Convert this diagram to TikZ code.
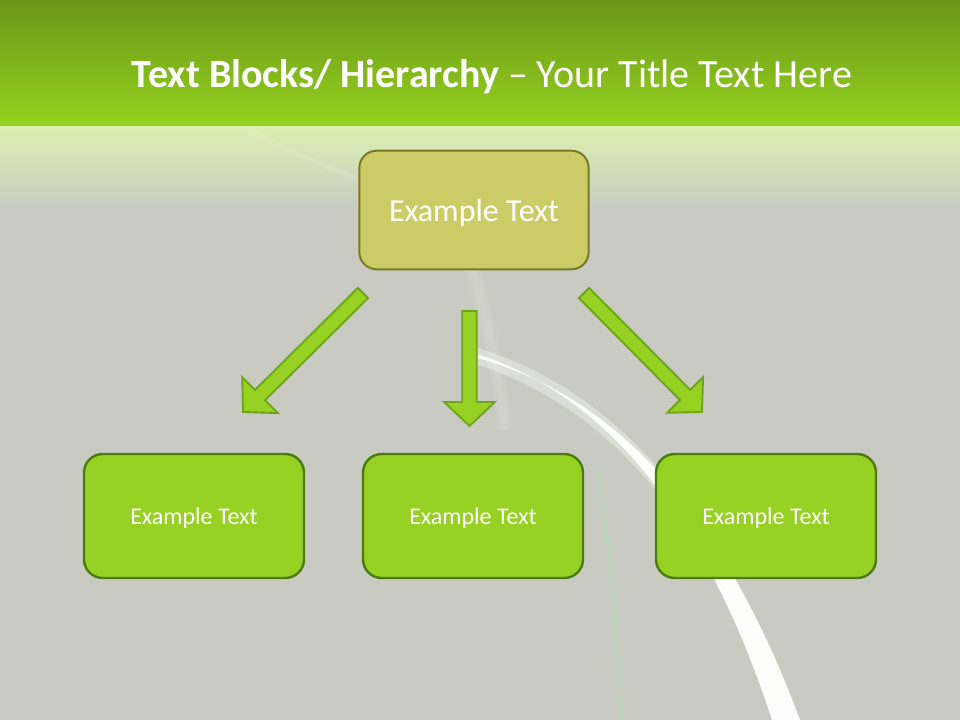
\documentclass[tikz,border=0pt]{standalone}
\usepackage{fontspec}
\setmainfont{Carlito}
\usepackage{tikz}
\usetikzlibrary{calc,positioning}

\definecolor{bandtop}{HTML}{6A9619}
\definecolor{bandbot}{HTML}{96D31E}
\definecolor{slidegray}{HTML}{C9CBC3}
\definecolor{oliveFill}{HTML}{CCCC66}
\definecolor{oliveLine}{HTML}{7A7A26}
\definecolor{leafFill}{HTML}{96D124}
\definecolor{leafLine}{HTML}{4E7A12}
\definecolor{arrowLine}{HTML}{6EA41A}

% block arrow from #1 to #2
\newcommand{\blockarrow}[3]{%
\coordinate (#3h) at ($(#2)!18pt!(#1)$);
\draw[blockarrow] ($(#1)!5.4pt!90:(#2)$) -- ($(#3h)!5.4pt!90:(#2)$) -- ($(#3h)!19pt!90:(#2)$) -- (#2)
  -- ($(#3h)!19pt!-90:(#2)$) -- ($(#3h)!5.4pt!-90:(#2)$) -- ($(#1)!5.4pt!-90:(#2)$) -- cycle;}

\begin{document}
\begin{tikzpicture}[x=0.75pt, y=-0.75pt,
  topbox/.style = {draw=oliveLine, fill=oliveFill, line width=1.5pt, rounded corners=13pt,
    minimum width=172pt, minimum height=89pt, text depth=0pt, text=white, font=\fontsize{24}{28}\selectfont},
  leafbox/.style = {draw=leafLine, fill=leafFill, line width=1.8pt, rounded corners=14pt,
    minimum width=165pt, minimum height=93pt, text depth=0pt, text=white, font=\fontsize{18}{22}\selectfont},
  blockarrow/.style = {draw=arrowLine, fill=leafFill, line width=1.4pt, line join=miter}]
% background
\useasboundingbox (0,0) rectangle (960,720);
\fill[slidegray] (0,0) rectangle (960,720);
\shade[top color=bandtop, bottom color=bandbot] (0,0) rectangle (960,128);
\shade[top color=bandbot!35!white, bottom color=slidegray] (0,127) rectangle (960,210);
\fill[white, opacity=0.12] (250,128) .. controls (330,170) and (400,190) .. (470,215)
  -- (470,220) .. controls (400,195) and (330,176) .. (246,132) -- cycle;
\foreach \w in {4,8,12} {
  \draw[white, opacity=0.06, line width=\w pt] (470,260) .. controls (490,330) and (500,380) .. (505,430);}
\draw[green!50!white, opacity=0.2, line width=2pt] (598,470) .. controls (612,560) and (618,650) .. (622,720);
\draw[white, opacity=0.35, line width=12pt] (470,354) .. controls (610,395) and (715,515) .. (786,720);
\fill[white, opacity=0.95] (470,352) .. controls (605,392) and (705,515) .. (772,720)
  -- (800,720) .. controls (722,510) and (612,392) .. (470,356) -- cycle;
% title
\node[anchor=base, text=white, font=\fontsize{30}{36}\selectfont] (title) at (492,88)
  {\textbf{Text Blocks/ Hierarchy} -- Your Title Text Here};
% boxes
\node[topbox] (root) at (474,210) {Example Text};
\node[leafbox] (left) at (194,516) {Example Text};
\node[leafbox] (mid) at (473,516) {Example Text};
\node[leafbox] (right) at (766,516) {Example Text};
% arrows
\coordinate (l0) at (363,293);
\coordinate (l1) at (243,412);
\coordinate (m0) at (469.5,311);
\coordinate (m1) at (469.5,426);
\coordinate (r0) at (584,293);
\coordinate (r1) at (702,412);
\blockarrow{l0}{l1}{l}
\blockarrow{m0}{m1}{m}
\blockarrow{r0}{r1}{r}
\end{tikzpicture}
\end{document}
